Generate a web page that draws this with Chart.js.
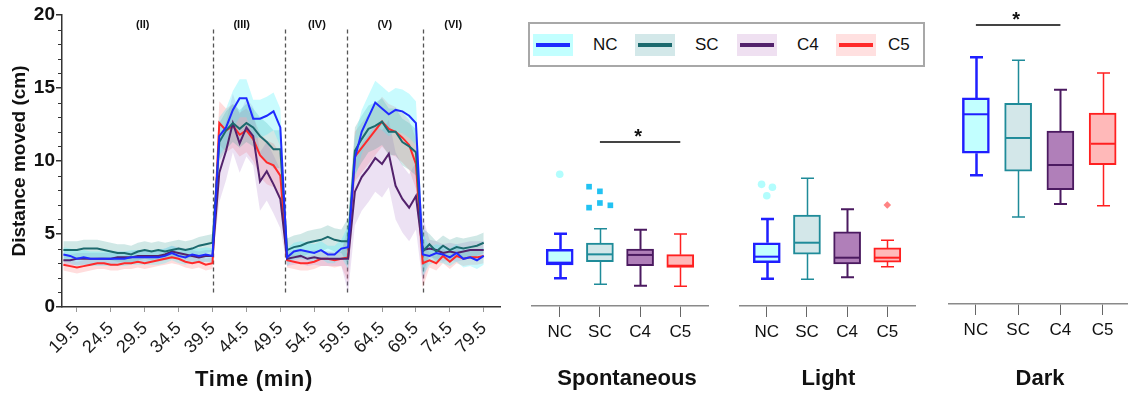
<!DOCTYPE html>
<html>
<head>
<meta charset="utf-8">
<script src="https://cdn.jsdelivr.net/npm/chart.js@4.4.1/dist/chart.umd.min.js"></script>
<style>
  body { margin: 0; background: #fff; width: 1128px; height: 399px; overflow: hidden; position: relative;
         font-family: "Liberation Sans", Arial, sans-serif; }
  canvas { position: absolute; top: 0; }
  #legend { position: absolute; left: 528px; top: 22px; width: 393px; height: 41px; border: 2px solid #a8a8a8; background: #fff; }
  .sw { position: absolute; top: 10px; width: 40px; height: 22px; }
  .sw i { position: absolute; left: 3px; right: 3px; top: 9px; height: 4px; }
  .lb { position: absolute; top: 10px; font-size: 17px; line-height: 22px; color: #111; }
</style>
</head>
<body>
<canvas id="timeChart" width="510" height="399" style="left:0"></canvas>
<canvas id="spontChart"></canvas>
<canvas id="lightChart"></canvas>
<canvas id="darkChart"></canvas>
<div id="legend"></div>
<script>
// ---- data ----
const groups = ['NC', 'SC', 'C4', 'C5'];

const times = [17.5, 18.5, 19.5, 20.5, 21.5, 22.5, 23.5, 24.5, 25.5, 26.5, 27.5, 28.5, 29.5, 30.5, 31.5, 32.5,
  33.5, 34.5, 35.5, 36.5, 37.5, 38.5, 39.5,
  40.5, 41.5, 42.5, 43.5, 44.5, 45.5, 46.5, 47.5, 48.5, 49.5,
  50.5, 51.5, 52.5, 53.5, 54.5, 55.5, 56.5, 57.5, 58.5, 59.5,
  60.5, 61.5, 62.5, 63.5, 64.5, 65.5, 66.5, 67.5, 68.5, 69.5,
  70.5, 71.5, 72.5, 73.5, 74.5, 75.5, 76.5, 77.5, 78.5, 79.5];

const meanNC = [3.6, 3.5, 3.3, 3.4, 3.3, 3.3, 3.3, 3.3, 3.3, 3.3, 3.4, 3.4, 3.4, 3.4, 3.4, 3.5, 3.7, 3.5, 3.4, 3.6, 3.5, 3.6, 3.5,
  11.7, 12.3, 13.5, 14.3, 14.3, 12.9, 12.9, 13.1, 13.4, 12.3,
  3.4, 3.8, 3.9, 3.8, 3.7, 3.9, 3.6, 3.6, 4.0, 4.1,
  10.2, 12.0, 13.0, 14.0, 13.6, 13.2, 13.5, 13.4, 13.1, 12.6,
  3.6, 3.5, 3.7, 3.6, 3.4, 3.7, 3.3, 3.4, 3.2, 3.5];
const meanSC = [3.9, 3.9, 3.9, 4.0, 4.0, 4.0, 3.9, 3.8, 3.7, 3.7, 3.6, 3.8, 3.9, 3.8, 3.9, 3.8, 3.9, 4.0, 3.9, 4.0, 4.2, 4.3, 4.4,
  11.3, 12.1, 12.6, 12.2, 12.6, 12.3, 11.7, 11.3, 10.8, 10.8,
  3.9, 4.1, 4.2, 4.4, 4.5, 4.6, 4.8, 4.6, 4.5, 4.5,
  10.7, 11.5, 12.2, 12.4, 12.7, 12.0, 12.0, 11.3, 11.0, 10.6,
  3.8, 4.3, 3.8, 4.2, 3.9, 4.1, 4.0, 4.1, 4.2, 4.4];
const meanC4 = [3.2, 3.2, 3.3, 3.3, 3.3, 3.3, 3.3, 3.3, 3.4, 3.4, 3.4, 3.5, 3.5, 3.5, 3.5, 3.6, 3.8, 3.7, 3.6, 3.5, 3.4, 3.5, 3.5,
  9.2, 10.7, 12.6, 11.2, 12.3, 11.7, 8.6, 9.3, 8.4, 7.4,
  3.3, 3.4, 3.5, 3.3, 3.4, 3.3, 3.3, 3.3, 3.3, 3.3,
  7.9, 8.9, 9.5, 10.2, 9.8, 10.5, 8.3, 7.4, 6.8, 7.6,
  3.9, 4.0, 3.9, 3.7, 3.8, 3.7, 3.8, 3.9, 3.9, 3.9];
const meanC5 = [2.9, 2.8, 2.7, 2.8, 2.9, 3.0, 3.0, 2.9, 2.9, 3.0, 3.0, 3.1, 3.0, 3.1, 3.2, 3.3, 3.4, 3.3, 3.1, 3.0, 3.1, 2.9, 3.0,
  12.6, 12.1, 12.4, 11.8, 12.1, 11.5, 10.4, 9.9, 9.7, 9.0,
  3.2, 3.1, 3.0, 3.0, 3.1, 3.3, 3.3, 3.2, 3.3, 3.4,
  10.3, 10.9, 11.5, 12.1, 12.7, 12.2, 12.0, 11.6, 11.1, 9.8,
  3.0, 3.2, 3.0, 3.5, 3.1, 3.5, 3.3, 3.4, 3.4, 3.5];

// SEM per phase (II, III, IV, V, VI)
const semNC = [0.5, 1.3, 0.6, 1.5, 0.6];
const semSC = [0.6, 1.3, 0.8, 1.6, 0.7];
const semC4 = [0.4, 2.0, 0.5, 2.3, 0.6];
const semC5 = [0.4, 1.5, 0.5, 1.7, 0.5];

const phaseBounds = [39.6, 50.2, 59.4, 70.5];
const phaseNames = ['(II)', '(III)', '(IV)', '(V)', '(VI)'];
const phaseLabelTimes = [29.2, 43.8, 54.9, 64.9, 75.0];

const xTickValues = [19.5, 24.5, 29.5, 34.5, 39.5, 44.5, 49.5, 54.5, 59.5, 64.5, 69.5, 74.5, 79.5];
const yTickValues = [0, 5, 10, 15, 20];

// box plots: low whisker, Q1, median, Q3, high whisker
const spontLow = [1.90, 1.49, 1.40, 1.35];
const spontQ1 = [2.82, 3.04, 2.77, 2.66];
const spontMedian = [2.98, 3.55, 3.51, 2.77];
const spontQ3 = [3.90, 4.33, 3.92, 3.53];
const spontHigh = [4.97, 5.31, 5.24, 4.95];
const spontOutliers = [[9.05], [8.20, 7.88, 6.76, 7.08, 6.92], [], []];

const lightLow = [1.88, 1.84, 1.97, 2.70];
const lightQ1 = [2.98, 3.57, 2.89, 3.02];
const lightMedian = [3.39, 4.35, 3.32, 3.32];
const lightQ3 = [4.35, 6.25, 5.09, 3.99];
const lightHigh = [5.98, 8.78, 6.65, 4.52];
const lightOutliers = [[8.36, 8.16, 7.58], [], [], [6.94]];

const darkLow = [8.91, 6.02, 6.92, 6.80];
const darkQ1 = [10.43, 9.20, 7.91, 9.64];
const darkMedian = [13.13, 11.49, 9.62, 11.09];
const darkQ3 = [14.26, 13.89, 11.97, 13.22];
const darkHigh = [17.07, 16.87, 14.83, 15.99];
const darkOutliers = [[], [], [], []];

// ---- styles ----
Chart.defaults.font.family = '"Liberation Sans", Arial, sans-serif';
const lineColors = ['#1f2bff', '#1c6a6e', '#53226c', '#ff2a2a'];
const bandColors = ['rgba(60,240,250,0.28)', 'rgba(40,150,140,0.22)', 'rgba(170,120,200,0.22)', 'rgba(255,100,100,0.22)'];
const swatchFill = ['#c2ffff', '#d3e8e9', '#efe0f1', '#ffe0e0'];
const boxFill = ['#c2ffff', '#d3e7e9', '#b07fb9', '#ffb9b9'];
const boxBorder = ['#1f1fff', '#1f8b99', '#4b1a60', '#ff2020'];
const boxBorderW = [2.5, 2, 2, 2];
const whiskerW = [2.5, 1.5, 2, 1.5];
const outlierStyle = [
  { pointStyle: 'circle', radius: 3.8, color: '#b2fdfd' },
  { pointStyle: 'rect', radius: 4, color: '#22c2f2' },
  { pointStyle: 'circle', radius: 3.5, color: '#b07fb9' },
  { pointStyle: 'rectRot', radius: 3.8, color: '#ff8383' }
];
const jitter = { 1: [0], 3: [-0.13, 0.14, 0], 5: [-0.27, 0, -0.27, 0, 0.26] };

// ---- legend ----
const legendEl = document.getElementById('legend');
const swatchX = [3, 105, 207, 306];
const labelX = [63, 165, 267, 358];
groups.forEach((g, k) => {
  const sw = document.createElement('div');
  sw.className = 'sw';
  sw.style.left = swatchX[k] + 'px';
  sw.style.background = swatchFill[k];
  const ln = document.createElement('i');
  ln.style.background = lineColors[k];
  sw.appendChild(ln);
  legendEl.appendChild(sw);
  const lb = document.createElement('span');
  lb.className = 'lb';
  lb.style.left = labelX[k] + 'px';
  lb.textContent = g;
  legendEl.appendChild(lb);
});

// ---- time course ----
const means = [meanNC, meanSC, meanC4, meanC5];
const sems = [semNC, semSC, semC4, semC5];
const phaseOf = t => phaseBounds.filter(b => b < t).length;

const timeSets = [];
groups.forEach((g, k) => {
  timeSets.push({
    label: g,
    data: times.map((t, i) => ({ x: t, y: means[k][i] })),
    borderColor: lineColors[k], borderWidth: 2, pointRadius: 0, fill: false, order: k
  });
});
groups.forEach((g, k) => {
  timeSets.push({
    label: g + ' upper',
    data: times.map((t, i) => ({ x: t, y: means[k][i] + sems[k][phaseOf(t)] })),
    borderColor: 'transparent', borderWidth: 0, pointRadius: 0,
    backgroundColor: bandColors[k], fill: '+1', order: 10 + k
  });
  timeSets.push({
    label: g + ' lower',
    data: times.map((t, i) => ({ x: t, y: means[k][i] - sems[k][phaseOf(t)] })),
    borderColor: 'transparent', borderWidth: 0, pointRadius: 0, fill: false, order: 10 + k
  });
});

const timeDecor = {
  id: 'timeDecor',
  beforeDatasetsDraw(chart) {
    const { ctx, scales: { x, y } } = chart;
    ctx.save();
    ctx.setLineDash([4, 3]);
    ctx.strokeStyle = '#555';
    ctx.lineWidth = 1.3;
    phaseBounds.forEach(b => {
      const px = Math.round(x.getPixelForValue(b)) + 0.5;
      ctx.beginPath();
      ctx.moveTo(px, y.getPixelForValue(19.0));
      ctx.lineTo(px, y.getPixelForValue(0.8));
      ctx.stroke();
    });
    ctx.restore();
  },
  afterDraw(chart) {
    const { ctx, scales: { x, y } } = chart;
    ctx.save();
    ctx.fillStyle = '#111';
    ctx.font = 'bold 11px "Liberation Sans", Arial';
    ctx.textAlign = 'center';
    ctx.textBaseline = 'middle';
    phaseNames.forEach((n, i) => ctx.fillText(n, x.getPixelForValue(phaseLabelTimes[i]), y.getPixelForValue(19.3)));
    // minor ticks on y
    ctx.strokeStyle = '#333';
    ctx.lineWidth = 1;
    for (let v = 1; v < 20; v++) {
      if (v % 5 === 0) continue;
      const py = Math.round(y.getPixelForValue(v)) + 0.5;
      ctx.beginPath();
      ctx.moveTo(x.left - 4, py);
      ctx.lineTo(x.left, py);
      ctx.stroke();
    }
    ctx.font = 'bold 22px "Liberation Sans", Arial';
    ctx.letterSpacing = '0.7px';
    ctx.fillText('Time (min)', 254, 380);
    ctx.restore();
  }
};

new Chart(document.getElementById('timeChart'), {
  type: 'line',
  data: { datasets: timeSets },
  options: {
    responsive: false, animation: false,
    layout: { padding: { top: 15, right: 10, left: 0, bottom: 0 } },
    plugins: { legend: { display: false }, tooltip: { enabled: false } },
    scales: {
      x: {
        type: 'linear', min: 17.3, max: 81.9,
        afterBuildTicks: s => { s.ticks = xTickValues.map(v => ({ value: v })); },
        afterFit: s => { s.height = 92; },
        ticks: { autoSkip: false, minRotation: 45, maxRotation: 45, font: { size: 18 }, color: '#1a1a1a', padding: 6,
                 callback: v => v.toFixed(1) },
        grid: { drawOnChartArea: false, tickLength: 5, color: '#999' },
        border: { color: '#333', width: 1.5 }
      },
      y: {
        min: 0, max: 20,
        afterBuildTicks: s => { s.ticks = yTickValues.map(v => ({ value: v })); },
        afterFit: s => { s.width = 62; },
        ticks: { font: { size: 19, weight: 'bold' }, color: '#111', padding: 1 },
        grid: { drawOnChartArea: false, tickLength: 6, color: '#333', lineWidth: 1.5 },
        border: { color: '#333', width: 1.5 },
        title: { display: true, text: 'Distance moved (cm)', font: { size: 19, weight: 'bold' }, color: '#111',
                 padding: { top: 8, bottom: 0 } }
      }
    }
  },
  plugins: [timeDecor]
});

// ---- box panels ----
function boxPanel(id, left, width, bottom, xMin, xMax, st, outliers, sig, title, titleShift) {
  const cv = document.getElementById(id);
  cv.width = width;
  cv.height = 399;
  cv.style.left = left + 'px';

  const sets = [{
    type: 'bar',
    data: st.q1.map((q, i) => ({ x: i, y: [q, st.q3[i]] })),
    backgroundColor: boxFill, borderColor: boxBorder, borderWidth: boxBorderW,
    borderSkipped: false, barThickness: 27
  }];
  outliers.forEach((vals, g) => {
    if (!vals.length) return;
    const jx = jitter[vals.length];
    sets.push({
      type: 'scatter',
      data: vals.map((v, j) => ({ x: g + jx[j], y: v })),
      pointStyle: outlierStyle[g].pointStyle, pointRadius: outlierStyle[g].radius,
      backgroundColor: outlierStyle[g].color, borderWidth: 0
    });
  });

  const boxDraw = {
    id: 'boxDraw',
    afterDatasetsDraw(chart) {
      const { ctx, scales: { x, y } } = chart;
      ctx.save();
      st.q1.forEach((q1, i) => {
        const cx = Math.round(x.getPixelForValue(i)) + 0.5;
        const yLow = y.getPixelForValue(st.low[i]);
        const yHigh = y.getPixelForValue(st.high[i]);
        const yQ1 = y.getPixelForValue(q1);
        const yQ3 = y.getPixelForValue(st.q3[i]);
        const yMed = y.getPixelForValue(st.median[i]);
        ctx.strokeStyle = boxBorder[i];
        ctx.lineWidth = whiskerW[i];
        ctx.beginPath();
        ctx.moveTo(cx, yQ1); ctx.lineTo(cx, yLow);
        ctx.moveTo(cx - 6.5, yLow); ctx.lineTo(cx + 6.5, yLow);
        ctx.moveTo(cx, yQ3); ctx.lineTo(cx, yHigh);
        ctx.moveTo(cx - 6.5, yHigh); ctx.lineTo(cx + 6.5, yHigh);
        ctx.stroke();
        ctx.lineWidth = 2;
        ctx.beginPath();
        ctx.moveTo(cx - 12.5, yMed); ctx.lineTo(cx + 12.5, yMed);
        ctx.stroke();
      });
      if (sig) {
        const ly = y.getPixelForValue(sig.level);
        const x1 = x.getPixelForValue(sig.from), x2 = x.getPixelForValue(sig.to);
        ctx.strokeStyle = '#444';
        ctx.lineWidth = 2;
        ctx.beginPath();
        ctx.moveTo(x1, ly); ctx.lineTo(x2, ly);
        ctx.stroke();
        ctx.fillStyle = '#111';
        ctx.font = 'bold 20px "Liberation Sans", Arial';
        ctx.textAlign = 'center';
        ctx.textBaseline = 'alphabetic';
        ctx.fillText('*', (x1 + x2) / 2 - 2, ly + 1);
      }
      ctx.restore();
    },
    afterDraw(chart) {
      const { ctx, scales: { x } } = chart;
      ctx.save();
      ctx.fillStyle = '#111';
      ctx.font = 'bold 22px "Liberation Sans", Arial';
      ctx.textAlign = 'center';
      ctx.textBaseline = 'middle';
      ctx.fillText(title, (x.left + x.right) / 2 + titleShift, 379);
      ctx.restore();
    }
  };

  new Chart(cv, {
    type: 'bar',
    data: { datasets: sets },
    options: {
      responsive: false, animation: false,
      layout: { padding: { top: 15, right: 0, left: 0, bottom: 0 } },
      plugins: { legend: { display: false }, tooltip: { enabled: false } },
      scales: {
        x: {
          type: 'linear', min: xMin, max: xMax, offset: false,
          afterBuildTicks: s => { s.ticks = groups.map((g, i) => ({ value: i })); },
          afterFit: s => { s.height = 399 - bottom; },
          ticks: { autoSkip: false, maxRotation: 0, font: { size: 17 }, color: '#111', padding: 5,
                   callback: v => groups[v] },
          grid: { drawOnChartArea: false, offset: false, tickLength: 11, color: '#666' },
          border: { color: '#8a8a8a', width: 1.5 }
        },
        y: { display: false, min: 0, max: 20 }
      }
    },
    plugins: [boxDraw]
  });
}

boxPanel('spontChart', 528, 184, 306, -0.69, 3.69,
  { low: spontLow, q1: spontQ1, median: spontMedian, q3: spontQ3, high: spontHigh },
  spontOutliers, { from: 1, to: 3, level: 11.27 }, 'Spontaneous', 7);
boxPanel('lightChart', 736, 183, 306, -0.667, 3.69,
  { low: lightLow, q1: lightQ1, median: lightMedian, q3: lightQ3, high: lightHigh },
  lightOutliers, null, 'Light', 1);
boxPanel('darkChart', 948, 180, 304, -0.66, 3.6,
  { low: darkLow, q1: darkQ1, median: darkMedian, q3: darkQ3, high: darkHigh },
  darkOutliers, { from: 0, to: 2, level: 19.3 }, 'Dark', 2);
</script>
</body>
</html>
